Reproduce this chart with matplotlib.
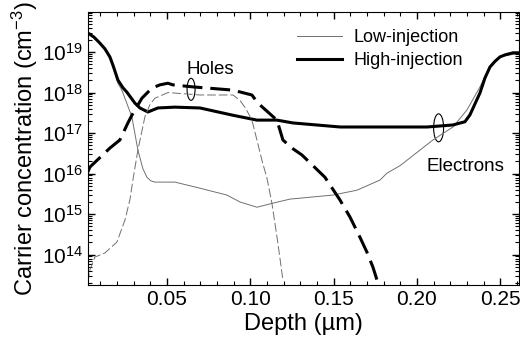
import matplotlib
matplotlib.use('Agg')
import matplotlib.pyplot as plt
import numpy as np
from matplotlib.patches import Ellipse
from matplotlib.transforms import ScaledTranslation
from matplotlib.ticker import MultipleLocator, LogLocator

plt.rcParams['font.family'] = ['Liberation Sans', 'DejaVu Sans']
plt.rcParams['mathtext.default'] = 'regular'

# depth (um) and log10 of concentration (cm^-3)
depth_e_high = [0.0026, 0.0062, 0.0098, 0.0128, 0.0158, 0.0176, 0.0206, 0.0236, 0.026, 0.0308,
                0.0338, 0.0386, 0.0446, 0.0548, 0.0698, 0.0896, 0.104, 0.116, 0.1256, 0.154,
                0.1658, 0.206, 0.2216, 0.2288, 0.2318, 0.2348, 0.2378, 0.2408, 0.2438, 0.2468,
                0.2498, 0.2528, 0.2576, 0.2618]
log_e_high = [19.47, 19.37, 19.22, 19.08, 18.88, 18.68, 18.31, 18.12, 18.01, 17.74,
              17.62, 17.52, 17.62, 17.64, 17.62, 17.44, 17.32, 17.32, 17.25, 17.15,
              17.15, 17.15, 17.20, 17.28, 17.45, 17.72, 17.99, 18.36, 18.63, 18.77,
              18.88, 18.93, 18.98, 18.98]

depth_e_low = [0.0026, 0.0062, 0.0098, 0.0128, 0.0158, 0.0176, 0.0206, 0.023, 0.029, 0.0326,
               0.0356, 0.038, 0.0404, 0.0428, 0.0548, 0.0698, 0.086, 0.0938, 0.104, 0.1136,
               0.1238, 0.1496, 0.164, 0.1778, 0.182, 0.19, 0.2096, 0.2216, 0.23, 0.2378,
               0.2438, 0.2498, 0.2618]
log_e_low = [19.47, 19.37, 19.22, 19.08, 18.88, 18.68, 18.23, 18.06, 17.40, 16.58,
             16.12, 15.91, 15.82, 15.79, 15.79, 15.64, 15.47, 15.30, 15.17, 15.27,
             15.37, 15.47, 15.59, 15.84, 16.01, 16.20, 16.83, 17.15, 17.57, 18.14,
             18.63, 18.88, 18.98]

depth_h_high = [0.0026, 0.0038, 0.0158, 0.0218, 0.0266, 0.029, 0.035, 0.041, 0.0458, 0.0506,
                0.0536, 0.0656, 0.0896, 0.101, 0.1046, 0.116, 0.1196, 0.125, 0.131, 0.1448,
                0.1538, 0.1598, 0.1658, 0.17, 0.1736, 0.1766]
log_h_high = [16.04, 16.16, 16.63, 16.83, 17.25, 17.44, 17.86, 18.11, 18.19, 18.23,
              18.19, 18.14, 18.06, 17.94, 17.74, 17.32, 16.83, 16.63, 16.46, 15.91,
              15.35, 14.93, 14.43, 14.06, 13.69, 13.30]

depth_h_low = [0.0026, 0.0038, 0.0068, 0.0128, 0.02, 0.0248, 0.0278, 0.0296, 0.0326, 0.0368,
               0.0398, 0.0428, 0.0506, 0.0698, 0.0896, 0.0938, 0.0974, 0.101, 0.104, 0.107,
               0.11, 0.113, 0.1166, 0.1196]
log_h_low = [13.32, 13.62, 13.94, 14.04, 14.31, 14.85, 15.35, 15.84, 16.58, 17.40,
             17.70, 17.86, 18.0, 17.94, 17.94, 17.81, 17.60, 17.32, 16.83, 16.33,
             15.89, 15.27, 14.28, 13.37]

fig = plt.figure(figsize=(5.2, 3.51), dpi=100)
ax = fig.add_axes([0.169, 0.188, 0.829, 0.778])

thin = dict(color='#707070', lw=0.7)
thick = dict(color='black', lw=2.2)
ax.plot(depth_e_low, 10.0 ** np.array(log_e_low), label='Low-injection', **thin)
ax.plot(depth_e_high, 10.0 ** np.array(log_e_high), label='High-injection', **thick)
ax.plot(depth_h_low, 10.0 ** np.array(log_h_low), ls=(0, (9, 3)), **thin)
ax.plot(depth_h_high, 10.0 ** np.array(log_h_high), ls=(0, (6.5, 2.6)), **thick)

ax.set_yscale('log')
ax.set_xlim(0.0026, 0.2612)
ax.set_ylim(10 ** 13.25, 10 ** 19.99)
ax.xaxis.set_major_locator(MultipleLocator(0.05))
ax.xaxis.set_minor_locator(MultipleLocator(0.01))
ax.yaxis.set_major_locator(LogLocator(base=10, numticks=20))
ax.xaxis.set_major_formatter(matplotlib.ticker.FormatStrFormatter('%.2f'))
ax.tick_params(which='both', direction='in', top=True, right=True, labelsize=15)
ax.tick_params(which='major', length=5, width=1)
ax.tick_params(which='minor', length=3, width=0.8)

ax.set_xlabel('Depth (µm)', fontsize=17, labelpad=3)
ax.set_ylabel('Carrier concentration (cm$^{-3}$)', fontsize=17, labelpad=1)

ax.legend(loc='upper left', bbox_to_anchor=(0.465, 0.97), frameon=False, fontsize=13,
          handlelength=2.5, handletextpad=0.6, labelspacing=0.35, borderpad=0)

# ellipse markers for the holes / electrons groups
for (xc, lc, w, h) in [(0.0645, 18.08, 0.08, 0.22), (0.213, 17.13, 0.10, 0.28)]:
    tr = fig.dpi_scale_trans + ScaledTranslation(xc, 10 ** lc, ax.transData)
    ax.add_patch(Ellipse((0, 0), w, h, transform=tr, fill=False, lw=0.8, color='black'))
ax.text(0.0615, 10 ** 18.58, 'Holes', fontsize=13.5, ha='left', va='center')
ax.text(0.2055, 10 ** 16.18, 'Electrons', fontsize=13.5, ha='left', va='center')

fig.savefig('out.png', dpi=100)
